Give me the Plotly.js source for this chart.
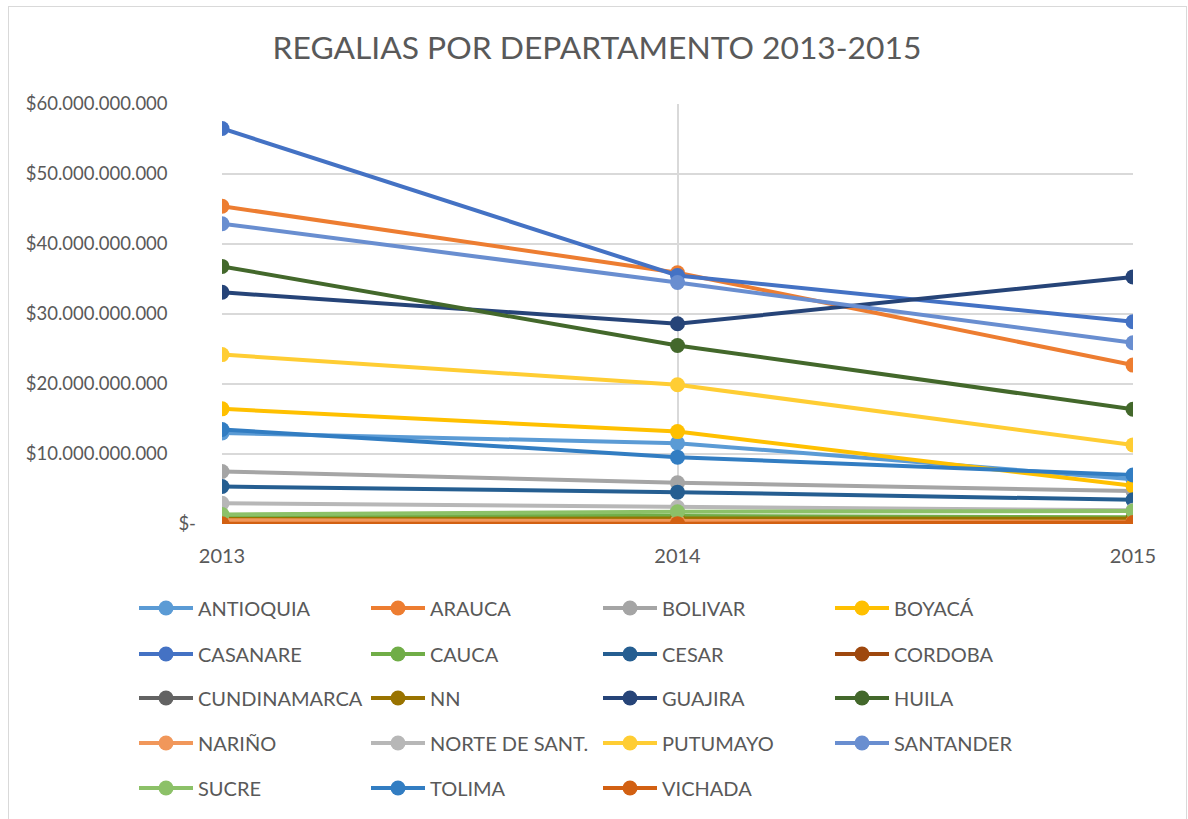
<!DOCTYPE html>
<html>
<head>
<meta charset="utf-8">
<script src="https://cdn.plot.ly/plotly-3.0.1.min.js"></script>
<style>
  html, body { margin: 0; padding: 0; background: #ffffff; }
  #wrap { position: relative; width: 1188px; height: 819px; overflow: hidden; }
  #chart { position: absolute; left: 0; top: 0; width: 1188px; height: 819px; }
  #frame { position: absolute; left: 8px; top: 6px; width: 1177px; height: 840px; border: 1px solid #d9d9d9; pointer-events: none; }
</style>
</head>
<body>
<div id="wrap">
  <div id="chart"></div>
  <div id="frame"></div>
</div>
<script>
// ---- data (billions of pesos) ----
const years = ['2013', '2014', '2015'];
const departments = ['ANTIOQUIA', 'ARAUCA', 'BOLIVAR', 'BOYACÁ', 'CASANARE', 'CAUCA', 'CESAR', 'CORDOBA',
  'CUNDINAMARCA', 'NN', 'GUAJIRA', 'HUILA', 'NARIÑO', 'NORTE DE SANT.', 'PUTUMAYO', 'SANTANDER',
  'SUCRE', 'TOLIMA', 'VICHADA'];
const ANTIOQUIA = [13.0, 11.55, 6.4];
const ARAUCA = [45.4, 35.9, 22.7];
const BOLIVAR = [7.5, 5.9, 4.7];
const BOYACA = [16.45, 13.2, 5.45];
const CASANARE = [56.5, 35.5, 28.9];
const CAUCA = [1.2, 1.15, 0.95];
const CESAR = [5.35, 4.55, 3.45];
const CORDOBA = [0.5, 0.55, 0.7];
const CUNDINAMARCA = [0.3, 0.3, 0.4];
const NN = [0.7, 0.8, 0.75];
const GUAJIRA = [33.1, 28.6, 35.3];
const HUILA = [36.8, 25.5, 16.4];
const NARINO = [0.55, 0.4, 0.33];
const NORTE = [2.95, 2.4, 1.95];
const PUTUMAYO = [24.2, 19.9, 11.3];
const SANTANDER = [42.9, 34.5, 25.9];
const SUCRE = [1.35, 1.75, 1.85];
const TOLIMA = [13.5, 9.55, 7.0];
const VICHADA = [0.05, 0.05, 0.2];
const seriesValues = [ANTIOQUIA, ARAUCA, BOLIVAR, BOYACA, CASANARE, CAUCA, CESAR, CORDOBA, CUNDINAMARCA,
  NN, GUAJIRA, HUILA, NARINO, NORTE, PUTUMAYO, SANTANDER, SUCRE, TOLIMA, VICHADA];
const colors = ['#5B9BD5', '#ED7D31', '#A5A5A5', '#FFC000', '#4472C4', '#70AD47', '#255E91', '#9E480E',
  '#636363', '#997300', '#264478', '#43682B', '#F1975A', '#B7B7B7', '#FFCD33', '#698ED0', '#8CC168',
  '#327DC2', '#D26012'];
const yTickVals = [0, 10, 20, 30, 40, 50, 60];
const yTickText = ['$-', '$10.000.000.000', '$20.000.000.000', '$30.000.000.000', '$40.000.000.000',
  '$50.000.000.000', '$60.000.000.000'];
const UNIT = 1e9;

const FONT = 'Lato, "Open Sans", sans-serif';
const TXT = '#595959';
const PAD = '\u00a0\u00a0\u00a0\u00a0\u00a0\u00a0'; // accounting-format right padding

const legendIds = ['legend', 'legend2', 'legend3', 'legend4', 'legend5'];

const traces = departments.map((name, i) => ({
  type: 'scatter',
  mode: 'lines+markers',
  name: name,
  x: years,
  y: seriesValues[i].map(v => v * UNIT),
  line: { color: colors[i], width: 4 },
  marker: { color: colors[i], size: 15 },
  legend: legendIds[Math.floor(i / 4)],
  hovertemplate: '%{y:,.0f}<extra>' + name + '</extra>'
}));

const legendRowY = [608, 654, 698, 743, 788];
const plotTop = 104, plotBottom = 524, plotLeft = 222, plotRight = 1133;
const ph = plotBottom - plotTop, pw = plotRight - plotLeft;

const layout = {
  width: 1188, height: 819,
  paper_bgcolor: '#ffffff', plot_bgcolor: '#ffffff',
  margin: { l: plotLeft, r: 1188 - plotRight, t: plotTop, b: 819 - plotBottom, pad: 0 },
  font: { family: FONT, color: TXT, size: 20 },
  title: {
    text: 'REGALIAS POR DEPARTAMENTO 2013-2015',
    font: { family: FONT, size: 31.8, color: TXT },
    x: 597 / 1188, xanchor: 'center', xref: 'container',
    y: 1 - 48 / 819, yanchor: 'middle', yref: 'container'
  },
  xaxis: {
    type: 'category',
    range: [0, 2],
    showgrid: true, gridcolor: '#d9d9d9', gridwidth: 1.5,
    zeroline: false, showline: false,
    ticks: '', ticklabelstandoff: 18,
    tickfont: { family: FONT, size: 20, color: TXT },
    fixedrange: true
  },
  yaxis: {
    range: [0, 60 * UNIT],
    tickvals: yTickVals.map(v => v * UNIT),
    ticktext: yTickText.map((t, i) => i === 0 ? t : t + PAD),
    showgrid: true, gridcolor: '#d9d9d9', gridwidth: 1.5,
    zeroline: false, showline: false,
    ticks: '', ticklabelstandoff: 25,
    tickfont: { family: FONT, size: 18.5, color: TXT },
    fixedrange: true
  },
  showlegend: true
};

legendIds.forEach((id, r) => {
  layout[id] = {
    orientation: 'h',
    x: (134 - plotLeft) / pw, xanchor: 'left',
    y: (plotBottom - legendRowY[r]) / ph, yanchor: 'middle',
    entrywidth: 163,
    entrywidthmode: 'pixels',
    itemwidth: 54,
    font: { family: FONT, size: 20, color: TXT },
    bgcolor: 'rgba(0,0,0,0)',
    traceorder: 'normal'
  };
});

Plotly.newPlot('chart', traces, layout, { displayModeBar: false, staticPlot: false });
</script>
</body>
</html>
